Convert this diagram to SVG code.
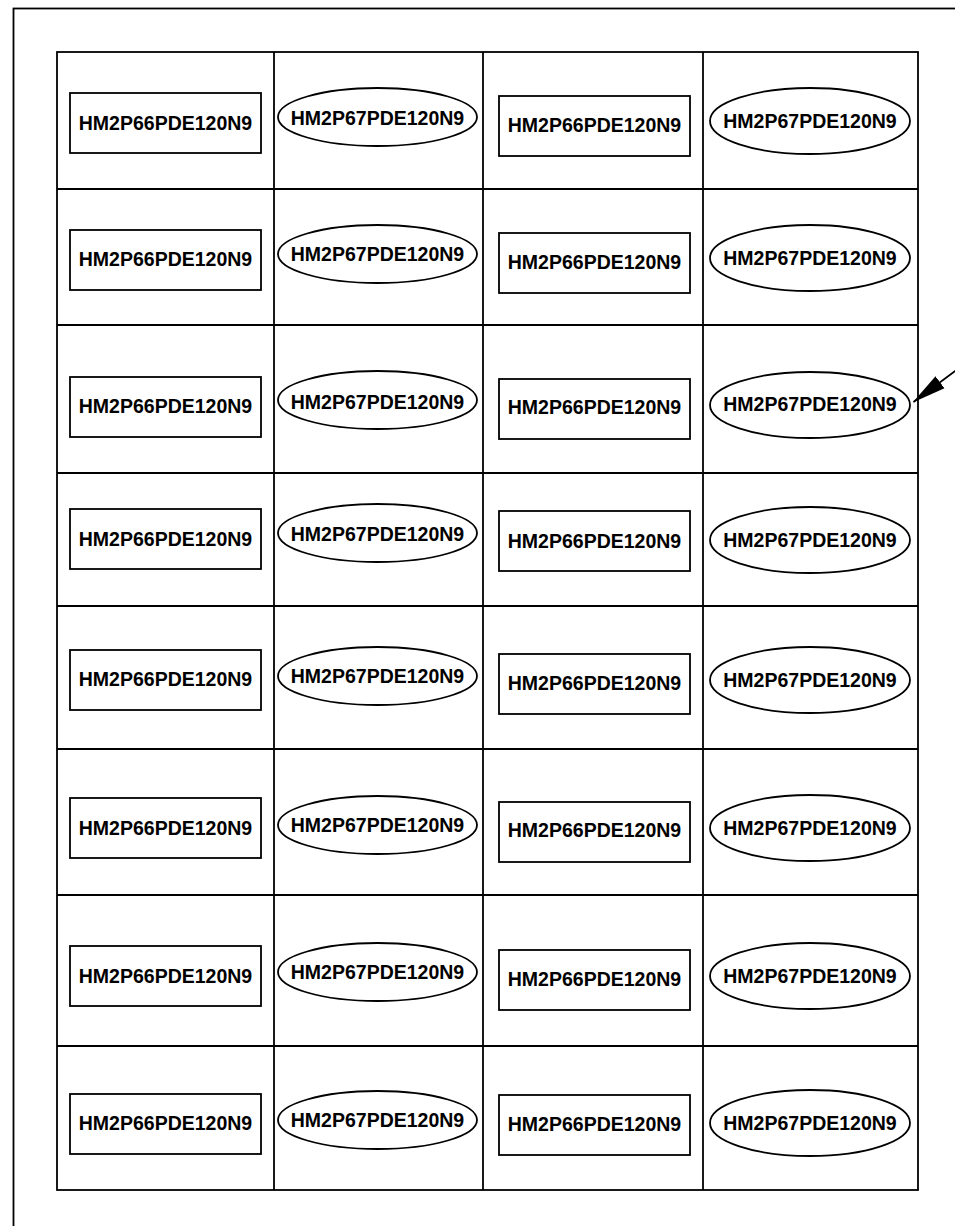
<svg xmlns="http://www.w3.org/2000/svg" width="955" height="1226" viewBox="0 0 955 1226">
<style>
.ln{stroke:#000;stroke-width:1.8;fill:none}
.bx{stroke:#000;stroke-width:1.8;fill:#fff}
.t{font-family:"Liberation Sans",Arial,sans-serif;font-size:19.5px;font-weight:bold;text-anchor:middle;fill:#000}
</style>
<defs>
<marker id="ah" markerWidth="34" markerHeight="16" refX="33" refY="8" orient="auto" markerUnits="userSpaceOnUse">
<path d="M0,0.5 L34,8 L0,15.5 Z" fill="#000"/>
</marker>
</defs>
<rect width="955" height="1226" fill="#fff"/>
<rect class="ln" x="13.5" y="8.5" width="960" height="1240"/>
<g id="grid">
<rect class="ln" x="57" y="52" width="861" height="1138"/>
<path class="ln" d="M274,52V1190M483,52V1190M703,52V1190M57,189H918M57,325H918M57,473H918M57,606H918M57,749H918M57,895H918M57,1046H918"/>
</g>
<g id="r1c1"><rect class="bx" x="70" y="93" width="191" height="60"/><text class="t" x="165.5" y="130">HM2P66PDE120N9</text></g>
<g id="r1c2"><ellipse class="bx" cx="377.5" cy="117" rx="99.5" ry="29"/><text class="t" x="377.5" y="125">HM2P67PDE120N9</text></g>
<g id="r1c3"><rect class="bx" x="499" y="96" width="191" height="60"/><text class="t" x="594.5" y="132">HM2P66PDE120N9</text></g>
<g id="r1c4"><ellipse class="bx" cx="810" cy="121" rx="100" ry="33"/><text class="t" x="810" y="128">HM2P67PDE120N9</text></g>

<g id="r2c1"><rect class="bx" x="70" y="230" width="191" height="60"/><text class="t" x="165.5" y="266">HM2P66PDE120N9</text></g>
<g id="r2c2"><ellipse class="bx" cx="377.5" cy="254" rx="99.5" ry="29"/><text class="t" x="377.5" y="261">HM2P67PDE120N9</text></g>
<g id="r2c3"><rect class="bx" x="499" y="233" width="191" height="60"/><text class="t" x="594.5" y="269">HM2P66PDE120N9</text></g>
<g id="r2c4"><ellipse class="bx" cx="810" cy="258" rx="100" ry="33"/><text class="t" x="810" y="265">HM2P67PDE120N9</text></g>

<g id="r3c1"><rect class="bx" x="70" y="377" width="191" height="60"/><text class="t" x="165.5" y="413">HM2P66PDE120N9</text></g>
<g id="r3c2"><ellipse class="bx" cx="377.5" cy="400" rx="99.5" ry="29"/><text class="t" x="377.5" y="409">HM2P67PDE120N9</text></g>
<g id="r3c3"><rect class="bx" x="499" y="379" width="191" height="60"/><text class="t" x="594.5" y="414">HM2P66PDE120N9</text></g>
<g id="r3c4"><ellipse class="bx" cx="810" cy="405" rx="100" ry="33"/><text class="t" x="810" y="411">HM2P67PDE120N9</text></g>

<g id="r4c1"><rect class="bx" x="70" y="509" width="191" height="60"/><text class="t" x="165.5" y="546">HM2P66PDE120N9</text></g>
<g id="r4c2"><ellipse class="bx" cx="377.5" cy="533" rx="99.5" ry="29"/><text class="t" x="377.5" y="541">HM2P67PDE120N9</text></g>
<g id="r4c3"><rect class="bx" x="499" y="511" width="191" height="60"/><text class="t" x="594.5" y="548">HM2P66PDE120N9</text></g>
<g id="r4c4"><ellipse class="bx" cx="810" cy="540" rx="100" ry="33"/><text class="t" x="810" y="547">HM2P67PDE120N9</text></g>

<g id="r5c1"><rect class="bx" x="70" y="650" width="191" height="60"/><text class="t" x="165.5" y="686">HM2P66PDE120N9</text></g>
<g id="r5c2"><ellipse class="bx" cx="377.5" cy="676" rx="99.5" ry="29"/><text class="t" x="377.5" y="683">HM2P67PDE120N9</text></g>
<g id="r5c3"><rect class="bx" x="499" y="654" width="191" height="60"/><text class="t" x="594.5" y="690">HM2P66PDE120N9</text></g>
<g id="r5c4"><ellipse class="bx" cx="810" cy="680" rx="100" ry="33"/><text class="t" x="810" y="687">HM2P67PDE120N9</text></g>

<g id="r6c1"><rect class="bx" x="70" y="798" width="191" height="60"/><text class="t" x="165.5" y="835">HM2P66PDE120N9</text></g>
<g id="r6c2"><ellipse class="bx" cx="377.5" cy="825" rx="99.5" ry="29"/><text class="t" x="377.5" y="832">HM2P67PDE120N9</text></g>
<g id="r6c3"><rect class="bx" x="499" y="802" width="191" height="60"/><text class="t" x="594.5" y="837">HM2P66PDE120N9</text></g>
<g id="r6c4"><ellipse class="bx" cx="810" cy="828" rx="100" ry="33"/><text class="t" x="810" y="835">HM2P67PDE120N9</text></g>

<g id="r7c1"><rect class="bx" x="70" y="946" width="191" height="60"/><text class="t" x="165.5" y="983">HM2P66PDE120N9</text></g>
<g id="r7c2"><ellipse class="bx" cx="377.5" cy="972" rx="99.5" ry="29"/><text class="t" x="377.5" y="979">HM2P67PDE120N9</text></g>
<g id="r7c3"><rect class="bx" x="499" y="950" width="191" height="60"/><text class="t" x="594.5" y="986">HM2P66PDE120N9</text></g>
<g id="r7c4"><ellipse class="bx" cx="810" cy="976" rx="100" ry="33"/><text class="t" x="810" y="983">HM2P67PDE120N9</text></g>

<g id="r8c1"><rect class="bx" x="70" y="1094" width="191" height="60"/><text class="t" x="165.5" y="1130">HM2P66PDE120N9</text></g>
<g id="r8c2"><ellipse class="bx" cx="377.5" cy="1120" rx="99.5" ry="29"/><text class="t" x="377.5" y="1127">HM2P67PDE120N9</text></g>
<g id="r8c3"><rect class="bx" x="499" y="1095" width="191" height="60"/><text class="t" x="594.5" y="1131">HM2P66PDE120N9</text></g>
<g id="r8c4"><ellipse class="bx" cx="810" cy="1123" rx="100" ry="33"/><text class="t" x="810" y="1130">HM2P67PDE120N9</text></g>

<g id="connectors">
<line class="ln" x1="962" y1="366" x2="913.5" y2="402" marker-end="url(#ah)"/>
</g>
</svg>
